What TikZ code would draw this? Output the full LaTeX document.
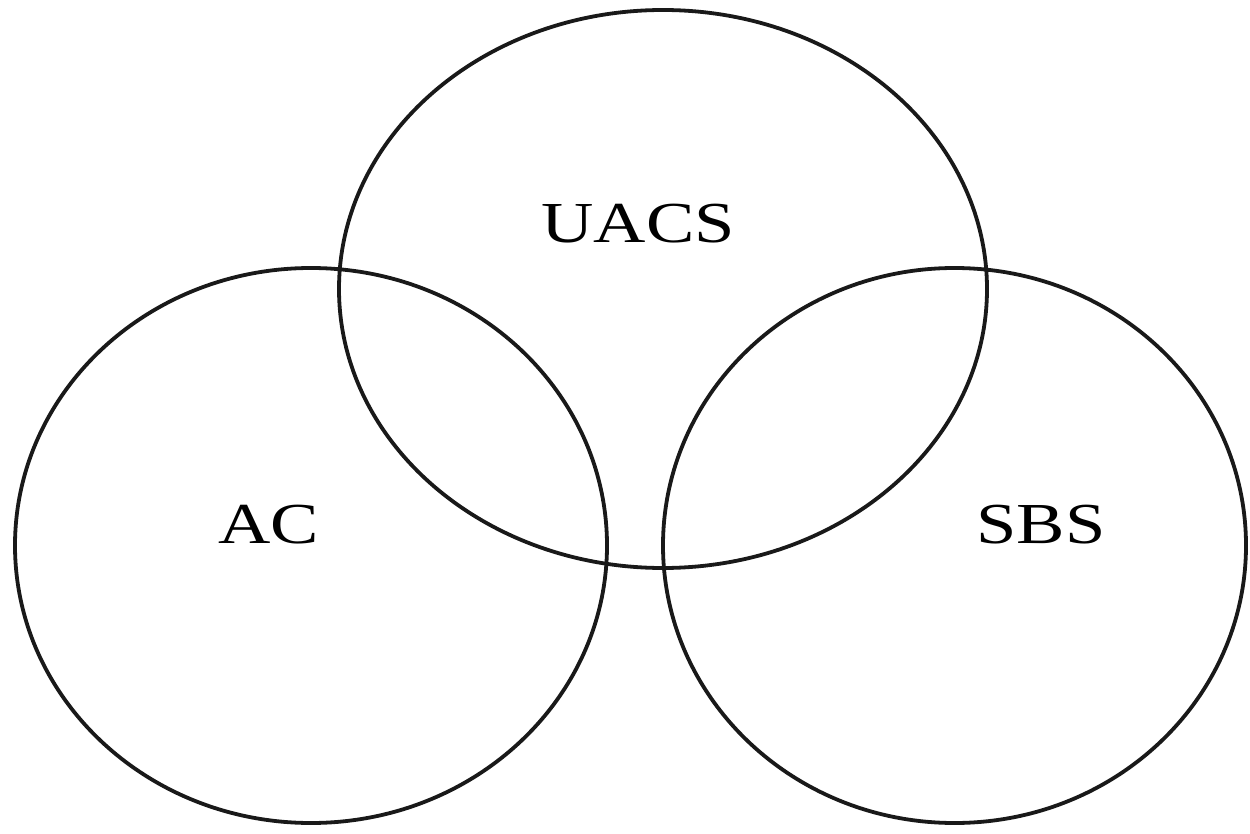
\documentclass[tikz,border=0pt]{standalone}
\usepackage{fontspec}
\usepackage{graphicx}
\setmainfont{Liberation Serif}
\begin{document}
\begin{tikzpicture}[x=1pt,y=-1pt,
  setring/.style={draw=black!90,line width=3.8pt},
  setlabel/.style={font=\fontsize{58}{60}\selectfont,inner sep=0pt,anchor=base}]
\useasboundingbox (0,0) rectangle (1250,834);
\draw[setring] (663,289) ellipse [x radius=324, y radius=279];
\draw[setring] (311,545.5) ellipse [x radius=296, y radius=277.5];
\draw[setring] (954.5,545.5) ellipse [x radius=291.5, y radius=277.5];
\node[setlabel] (uacs) at (638,243) {\scalebox{1.25}[1]{UACS}};
\node[setlabel] (ac) at (269,543) {\scalebox{1.25}[1]{AC}};
\node[setlabel] (sbs) at (1041,543) {\scalebox{1.25}[1]{SBS}};
\end{tikzpicture}
\end{document}
